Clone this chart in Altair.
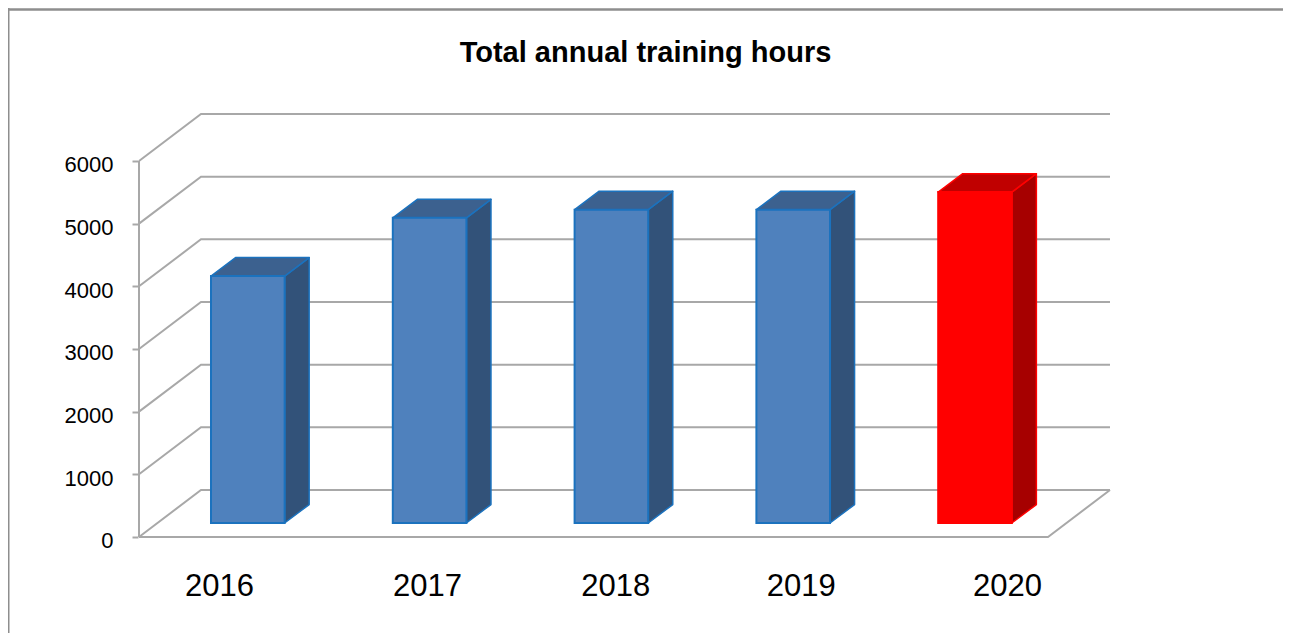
import altair as alt
import pandas as pd

# Values
years = ["2016", "2017", "2018", "2019", "2020"]
hours = [3940, 4870, 5000, 5000, 5280]
groups = ["regular", "regular", "regular", "regular", "highlight"]
y_ticks = [0, 1000, 2000, 3000, 4000, 5000, 6000]
year_label_pos = [0.44, 1.584, 2.62, 3.64, 4.775]

# Perspective of the 3-D box, in data units (categories / hours)
WALL_DX, WALL_DV = 0.341, 750
BAR_DX, BAR_DV = 0.135, 295
BAR_LEFT, BAR_W, BAR_BASE = 0.396, 0.405, 223
N = len(years)

X_DOMAIN = [-0.7206, 6.2926]
Y_DOMAIN = [-1532, 8441]
W, H = 1275, 625

x_scale = alt.Scale(domain=X_DOMAIN, nice=False, zero=False)
y_scale = alt.Scale(domain=Y_DOMAIN, nice=False, zero=False)

# grid frame
grid_rows = []
for v in y_ticks:
    for k, (cx, vv) in enumerate([(0, v), (WALL_DX, v + WALL_DV), (N + WALL_DX, v + WALL_DV)]):
        grid_rows.append(dict(id=f"g{v}", k=k, x=cx, v=vv))
for k, (cx, vv) in enumerate([(0, 0), (N, 0), (N + WALL_DX, WALL_DV)]):
    grid_rows.append(dict(id="floor", k=k, x=cx, v=vv))
for k, (cx, vv) in enumerate([(0, 0), (0, y_ticks[-1])]):
    grid_rows.append(dict(id="axis", k=k, x=cx, v=vv))
grid_df = pd.DataFrame(grid_rows)

# bar faces
front, side, top = [], [], []
for i, (yr, h, g) in enumerate(zip(years, hours, groups)):
    l = BAR_LEFT + i
    r = l + BAR_W
    t = BAR_BASE + h
    front.append(dict(year=yr, x=l, x2=r, v=BAR_BASE, v2=t, fill=f"front-{g}", edge=g))
    side.append(dict(year=yr, x=r, v=BAR_BASE, v2=t, fill=f"side-{g}", edge=g))
    side.append(dict(year=yr, x=r + BAR_DX, v=BAR_BASE + BAR_DV, v2=t + BAR_DV, fill=f"side-{g}", edge=g))
    top.append(dict(year=yr, v=t, x=l, x2=r, fill=f"top-{g}", edge=g))
    top.append(dict(year=yr, v=t + BAR_DV, x=l + BAR_DX, x2=r + BAR_DX, fill=f"top-{g}", edge=g))
front_df, side_df, top_df = pd.DataFrame(front), pd.DataFrame(side), pd.DataFrame(top)

fill_enc = alt.Color("fill:N", legend=None, scale=alt.Scale(
    domain=["front-regular", "side-regular", "top-regular", "front-highlight", "side-highlight", "top-highlight"],
    range=["#4f81bd", "#325279", "#3c618f", "#ff0000", "#a60000", "#c00000"]))
edge_enc = alt.Stroke("edge:N", legend=None, scale=alt.Scale(
    domain=["regular", "highlight"], range=["#1b72be", "#ff0000"]))

labels_js = "[" + ",".join(f"'{y}'" for y in years) + "]"

x_axis = alt.Axis(
    orient="bottom", values=year_label_pos, grid=False, domain=False, ticks=False,
    labelExpr=f"{labels_js}[round(datum.index*{N - 1})]",
    labelFont="Liberation Sans", labelFontSize=31, labelColor="#000000",
    labelBaseline="middle", labelPadding=0, offset=-47, labelFlush=False, labelOverlap=False)
y_axis = alt.Axis(
    orient="left", values=y_ticks, grid=False, domain=False, format="d",
    tickColor="#a8a8a8", tickWidth=2, tickSize=6, offset=-130,
    labelFont="Liberation Sans", labelFontSize=22, labelColor="#000000",
    labelPadding=19, labelOffset=4, labelFlush=False, labelOverlap=False)

grid = alt.Chart(grid_df).mark_line(color="#a8a8a8", strokeWidth=2).encode(
    x=alt.X("x:Q", scale=x_scale, title=None, axis=x_axis),
    y=alt.Y("v:Q", scale=y_scale, title=None, axis=y_axis),
    detail="id:N", order="k:Q")

side_layer = alt.Chart(side_df).mark_area(strokeWidth=1.5, strokeJoin="round").encode(
    x=alt.X("x:Q", scale=x_scale, title=None, axis=x_axis),
    y=alt.Y("v:Q", scale=y_scale, title=None, axis=y_axis, stack=None), y2="v2:Q",
    color=fill_enc, stroke=edge_enc, detail="year:N")

top_layer = alt.Chart(top_df).mark_area(orient="horizontal", strokeWidth=1.5, strokeJoin="round").encode(
    y=alt.Y("v:Q", scale=y_scale, title=None, axis=y_axis),
    x=alt.X("x:Q", scale=x_scale, title=None, axis=x_axis, stack=None), x2="x2:Q",
    color=fill_enc, stroke=edge_enc, detail="year:N")

front_layer = alt.Chart(front_df).mark_rect(strokeWidth=2).encode(
    x=alt.X("x:Q", scale=x_scale, title=None, axis=x_axis), x2="x2:Q",
    y=alt.Y("v:Q", scale=y_scale, title=None, axis=y_axis), y2="v2:Q",
    color=fill_enc, stroke=edge_enc)

frame_df = pd.DataFrame({"edge": ["left"]})
left_border = alt.Chart(frame_df).mark_rule(color="#8e8e8e", strokeWidth=2).encode(
    x=alt.value(0.5), y=alt.value(0), y2=alt.value(H))
top_border = alt.Chart(frame_df).mark_rule(color="#8e8e8e", strokeWidth=2.5).encode(
    y=alt.value(1.5), x=alt.value(0), x2=alt.value(W))

chart = alt.layer(grid, side_layer, top_layer, front_layer, left_border, top_border).properties(
    width=W, height=H, padding=0,
    autosize=alt.AutoSizeParams(type="none"),
    title=alt.TitleParams("Total annual training hours", font="Liberation Sans", fontSize=29,
                          fontWeight="bold", color="#000000", anchor="middle", dx=0,
                          baseline="bottom", offset=-90),
).configure_view(stroke=None)

chart.save("out.html", embed_options={"renderer": "svg", "actions": False})
